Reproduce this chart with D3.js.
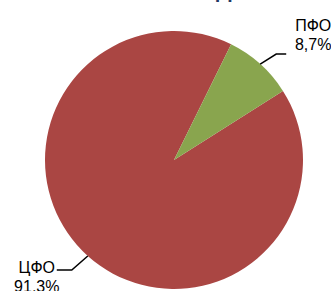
<!DOCTYPE html>
<html>
<head>
<meta charset="utf-8">
<script src="https://cdn.jsdelivr.net/npm/d3@7/dist/d3.min.js"></script>
<style>
  body { margin: 0; background: #fff; }
  svg { display: block; font-family: "Liberation Sans", Arial, sans-serif; }
</style>
</head>
<body>
<div id="chart"></div>
<script>
var categories = ["ЦФО", "ПФО"];
var values = [91.3, 8.7];
var valueLabels = ["91,3%", "8,7%"];
var colors = ["#AA4643", "#89A54E"];

var width = 331, height = 291;
var cx = 174, cy = 160, radius = 129;

var svg = d3.select("#chart")
    .append("svg")
    .attr("width", width)
    .attr("height", height);

// title is mostly above the visible area, only the descender shows
svg.append("text")
    .attr("x", 216)
    .attr("y", -3.5)
    .style("font-size", "22px")
    .style("font-weight", "bold")
    .style("fill", "#1F3864")
    .text("Доля");

var start = 57.6 * Math.PI / 180;

var pie = d3.pie()
    .sort(null)
    .startAngle(start)
    .endAngle(start + 2 * Math.PI);

var arcs = pie(values);

var arc = d3.arc()
    .innerRadius(0)
    .outerRadius(radius);

var g = svg.append("g")
    .attr("transform", "translate(" + cx + "," + cy + ")");

g.selectAll("path.slice")
    .data(arcs)
    .enter()
    .append("path")
    .attr("class", "slice")
    .attr("d", arc)
    .attr("fill", function(d, i) { return colors[i]; });

// leader lines + labels
arcs.forEach(function(d, i) {
    var mid = (d.startAngle + d.endAngle) / 2;
    var x0 = radius * Math.sin(mid);
    var y0 = -radius * Math.cos(mid);
    var right = Math.sin(mid) > 0;
    var x1 = x0 + (right ? 16 : -16);
    var y1 = y0 + (right ? -10 : 14);
    var x2 = x1 + (right ? 10 : -15);

    g.append("polyline")
        .attr("points", [[x0, y0], [x1, y1], [x2, y1]].map(function(p) { return p.join(","); }).join(" "))
        .attr("fill", "none")
        .attr("stroke", "#000")
        .attr("stroke-width", 1.5);

    var tx = right ? x2 + 27 : x2 - 20;
    var ty = right ? y1 - 23 : y1 + 3;

    var t = g.append("text")
        .attr("text-anchor", "middle")
        .style("font-size", "16px")
        .style("fill", "#000");
    t.append("tspan")
        .attr("x", tx)
        .attr("y", ty)
        .text(categories[i]);
    t.append("tspan")
        .attr("x", tx)
        .attr("y", ty + 19)
        .text(valueLabels[i]);
});
</script>
</body>
</html>
